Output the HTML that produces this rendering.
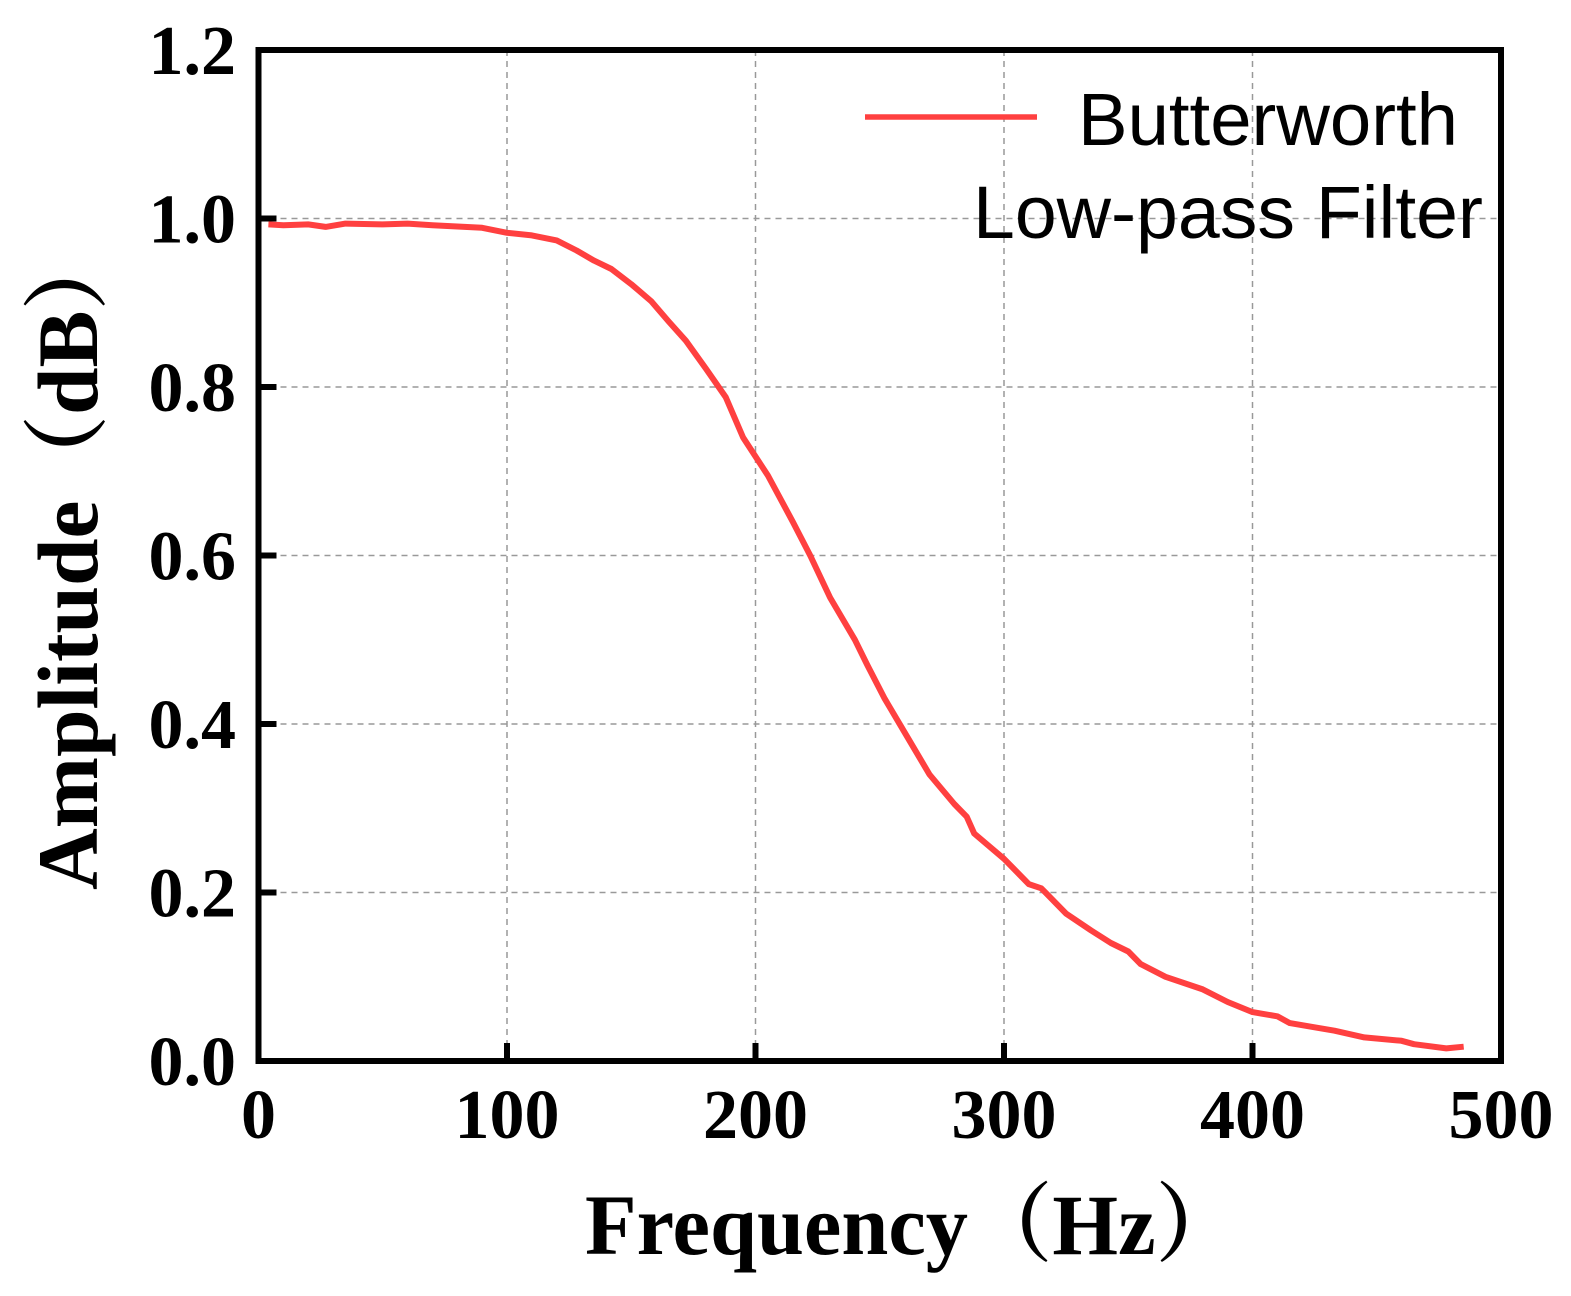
<!DOCTYPE html>
<html><head><meta charset="utf-8"><style>
body{margin:0;background:#fff;}
svg{display:block;}
</style></head><body>
<svg id="chart" width="1571" height="1296" xmlns="http://www.w3.org/2000/svg">
<g id="grid"></g>
<g id="axes"></g>
<g id="series"></g>
<text x="585" y="1254" textLength="655" lengthAdjust="spacingAndGlyphs" font-family="Liberation Serif, 'Noto Serif CJK SC', serif" font-weight="bold" font-size="86">Frequency（Hz）</text>
<text transform="translate(97,890) rotate(-90)" textLength="665" lengthAdjust="spacingAndGlyphs" font-family="Liberation Serif, 'Noto Serif CJK SC', serif" font-weight="bold" font-size="86">Amplitude（dB）</text>
<g>
<line x1="865" y1="117" x2="1037" y2="117" stroke="#ff4040" stroke-width="5.5"/>
<text x="1078" y="145" textLength="380" lengthAdjust="spacingAndGlyphs" font-family="Liberation Sans, sans-serif" font-size="74">Butterworth</text>
<text x="973" y="238" textLength="510" lengthAdjust="spacingAndGlyphs" font-family="Liberation Sans, sans-serif" font-size="74">Low-pass Filter</text>
</g>
</svg>
<script>
const xTicks=[0,100,200,300,400,500];
const yTicks=[0.0,0.2,0.4,0.6,0.8,1.0,1.2];
const freq=[4,10,20,27,35,50,60,70,90,100,110,120,128,135,142,150,158,165,172,180,188,195,205,215,222,230,240,245,252,262,270,280,285,288,300,310,315,325,335,343,350,355,365,380,390,400,410,415,425,433,445,460,465,478,485];
const amp=[0.993,0.992,0.993,0.990,0.994,0.993,0.994,0.992,0.989,0.983,0.980,0.974,0.962,0.950,0.940,0.922,0.902,0.878,0.855,0.822,0.788,0.740,0.695,0.640,0.600,0.550,0.500,0.470,0.430,0.380,0.340,0.305,0.290,0.270,0.240,0.210,0.205,0.175,0.155,0.140,0.130,0.115,0.100,0.085,0.070,0.058,0.053,0.045,0.040,0.036,0.028,0.024,0.020,0.015,0.017];
const L=258.5,R=1501,T=50,B=1061;
function sx(v){return L+(v-0)/500*(R-L);}
function sy(v){return B-(v/1.2)*(B-T);}
const NS='http://www.w3.org/2000/svg';
function mk(tag,attrs,parent){const e=document.createElementNS(NS,tag);for(const k in attrs)e.setAttribute(k,attrs[k]);parent.appendChild(e);return e;}
const grid=document.getElementById('grid'),axes=document.getElementById('axes'),series=document.getElementById('series');
xTicks.forEach(t=>{
  if(t>0&&t<500){const g=mk('line',{x1:sx(t),x2:sx(t),y1:T,y2:B,stroke:'#999','stroke-width':1.5,'stroke-dasharray':'6,5'},grid);
  
  
  const tk=mk('line',{x1:sx(t),x2:sx(t),y1:B,y2:B-18,stroke:'#000','stroke-width':6},axes);
  
  }
  const tx=mk('text',{x:sx(t),y:1138,'text-anchor':'middle','font-family':'Liberation Serif, serif','font-weight':'bold','font-size':70},axes);
  tx.textContent=t;
  
  
});
yTicks.forEach(t=>{
  if(t>0&&t<1.2){const g=mk('line',{x1:L,x2:R,y1:sy(t),y2:sy(t),stroke:'#999','stroke-width':1.5,'stroke-dasharray':'6,5'},grid);
  
  
  const tk=mk('line',{x1:L,x2:L+18,y1:sy(t),y2:sy(t),stroke:'#000','stroke-width':6},axes);
  
  }
  const tx=mk('text',{x:236,y:sy(t)+24,'text-anchor':'end','font-family':'Liberation Serif, serif','font-weight':'bold','font-size':70},axes);
  tx.textContent=t.toFixed(1);
  
  
});
const fr=mk('rect',{x:L,y:T,width:R-L,height:B-T,fill:'none',stroke:'#000','stroke-width':6},axes);


const d=freq.map((f,i)=>(i?'L':'M')+sx(f).toFixed(1)+','+sy(amp[i]).toFixed(1)).join(' ');
const p=mk('path',{d:d,fill:'none',stroke:'#ff4040','stroke-width':6,'stroke-linejoin':'round'},series);


</script>
</body></html>
